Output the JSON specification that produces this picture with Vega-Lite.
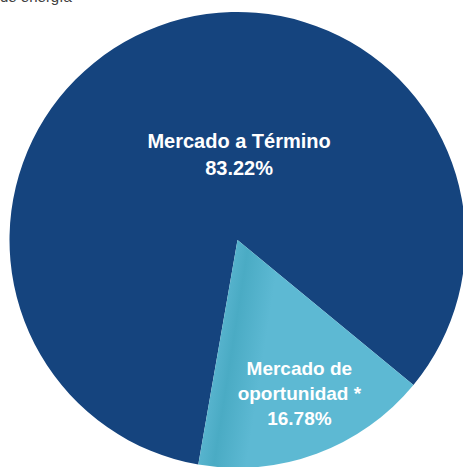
{
  "$schema": "https://vega.github.io/schema/vega-lite/v6.json",
  "width": 475,
  "height": 480,
  "padding": 0,
  "autosize": {"type": "none"},
  "background": "white",
  "config": {"view": {"stroke": null}},
  "title": {
    "text": "de energía",
    "anchor": "start",
    "frame": "group",
    "orient": "top",
    "offset": 0,
    "dy": 17,
    "baseline": "alphabetic",
    "font": "Liberation Sans",
    "fontSize": 15,
    "fontWeight": "normal",
    "color": "#404040"
  },
  "data": {
    "values": [
      {"mercado": "Mercado a Término", "pct": 83.22, "etiqueta": "Mercado a Término\n83.22%"},
      {"mercado": "Mercado de oportunidad *", "pct": 16.78, "etiqueta": "Mercado de\noportunidad *\n16.78%"}
    ]
  },
  "encoding": {
    "theta": {"field": "pct", "type": "quantitative", "stack": true, "scale": {"range": [3.3144, 9.5976]}},
    "order": {"field": "pct", "type": "quantitative", "sort": "descending"}
  },
  "layer": [
    {
      "mark": {"type": "arc", "outerRadius": 228, "strokeWidth": 0},
      "encoding": {
        "color": {
          "condition": {"test": "datum.mercado === 'Mercado a Término'", "value": "#15447E"},
          "value": {
            "gradient": "linear",
            "x1": 0.09, "y1": 0.49, "x2": 0.3, "y2": 0.525,
            "stops": [
              {"offset": 0, "color": "#56b3cd"},
              {"offset": 0.3, "color": "#4aabc4"},
              {"offset": 1, "color": "#5db9d3"}
            ]
          }
        }
      }
    },
    {
      "mark": {"type": "text", "radius": 105, "dx": 38, "font": "Liberation Sans", "fontWeight": "bold", "fontSize": 20, "lineHeight": 27, "lineBreak": "\n", "color": "white", "align": "center", "baseline": "middle"},
      "encoding": {
        "text": {"condition": {"test": "datum.mercado === 'Mercado a Término'", "field": "etiqueta"}, "value": ""}
      }
    },
    {
      "mark": {"type": "text", "radius": 138, "dx": 14, "font": "Liberation Sans", "fontWeight": "bold", "fontSize": 19, "lineHeight": 25, "lineBreak": "\n", "color": "white", "align": "center", "baseline": "middle"},
      "encoding": {
        "text": {"condition": {"test": "datum.mercado === 'Mercado de oportunidad *'", "field": "etiqueta"}, "value": ""}
      }
    }
  ]
}
